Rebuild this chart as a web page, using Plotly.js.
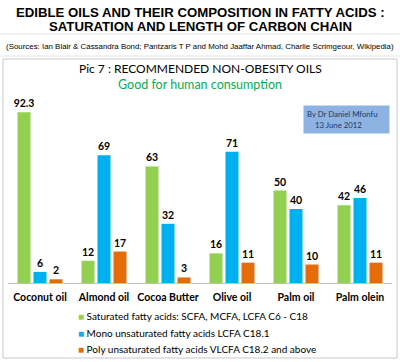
<!DOCTYPE html>
<html>
<head>
<meta charset="utf-8">
<script src="https://cdn.plot.ly/plotly-3.0.1.min.js"></script>
<style>html,body{margin:0;padding:0;background:#fff;}#chart{width:400px;height:362px;}</style>
</head>
<body>
<div id="chart"></div>
<script>
var categories = ["Coconut oil", "Almond oil", "Cocoa Butter", "Olive oil", "Palm oil", "Palm olein"];
var saturated = [92.3, 12, 63, 16, 50, 42];
var mono = [6, 69, 32, 71, 40, 46];
var poly = [2, 17, 3, 11, 10, 11];
var seriesNames = [
  "Saturated fatty acids: SCFA, MCFA, LCFA C6 - C18",
  "Mono unsaturated fatty acids LCFA C18.1",
  "Poly unsaturated fatty acids VLCFA C18.2 and above"
];
var seriesColors = ["#92d050", "#00b0f0", "#e46c0a"];

var W = 400, H = 362;
var L = 8, R = 8, T = 98, B = 79;
var pw = W - L - R, ph = H - T - B;
function px(x) { return (x - L) / pw; }
function py(y) { return (H - B - y) / ph; }

var labelFont = {family: "Lato, sans-serif", size: 10.5, color: "#000", weight: "bold"};
function mk(vals, i) {
  return {
    type: "bar", x: categories, y: vals, name: seriesNames[i],
    marker: {color: seriesColors[i]},
    text: vals.map(String), textposition: "outside",
    textfont: labelFont, cliponaxis: false, constraintext: "none",
    showlegend: false, hoverinfo: "none"
  };
}
var data = [mk(saturated, 0), mk(mono, 1), mk(poly, 2)];

var ann = [
  {text: "EDIBLE OILS AND THEIR COMPOSITION IN FATTY ACIDS :", x: px(200), y: py(12), font: {family: "Liberation Sans, Arial", size: 13.2, weight: "bold", color: "#000"}},
  {text: "SATURATION AND LENGTH OF CARBON CHAIN", x: px(200), y: py(27), font: {family: "Liberation Sans, Arial", size: 13.2, weight: "bold", color: "#000"}},
  {text: "(Sources: Ian Blair &amp; Cassandra Bond; Pantzaris T P and Mohd Jaaffar Ahmad, Charlie Scrimgeour, Wikipedia)", x: px(200), y: py(47), font: {family: "Liberation Sans, Arial", size: 7.9, color: "#000"}},
  {text: "Pic 7 : RECOMMENDED NON-OBESITY OILS", x: px(200), y: py(68), font: {family: "Lato, sans-serif", size: 12, color: "#000"}},
  {text: "Good for human consumption", x: px(200), y: py(84), font: {family: "Lato, sans-serif", size: 12.5, color: "#00b050"}},
  {text: "By Dr Daniel Mfonfu<br>&nbsp;&nbsp;&nbsp;&nbsp;13 June 2012", x: px(303), y: py(105), xanchor: "left", yanchor: "top",
   width: 79, height: 21, align: "left", valign: "middle", bgcolor: "#8db3e2", borderpad: 3,
   font: {family: "Lato, sans-serif", size: 7.8, color: "#1f3864"}}
];
for (var i = 0; i < 3; i++) {
  ann.push({text: '<span style="color:' + seriesColors[i] + '">■</span> ' + seriesNames[i],
    x: px(76), y: py(316 + i * 16.5), xanchor: "left",
    font: {family: "Lato, sans-serif", size: 10, color: "#000"}});
}
ann.forEach(function(a) {
  a.xref = "paper"; a.yref = "paper"; a.showarrow = false;
  if (!a.xanchor) a.xanchor = "center";
  if (!a.yanchor) a.yanchor = "middle";
});

var lineCol = "#e4e4e4";
var shapes = [
  {type: "line", x0: px(0), x1: px(400), y0: py(34), y1: py(34), line: {color: lineCol, width: 1}},
  {type: "line", x0: px(0), x1: px(400), y0: py(56), y1: py(56), line: {color: lineCol, width: 1}},
  {type: "rect", x0: px(3), x1: px(397), y0: py(59), y1: py(358), line: {color: "#c8c8c8", width: 1}}
];
shapes.forEach(function(s) { s.xref = "paper"; s.yref = "paper"; s.layer = "below"; });

var layout = {
  width: W, height: H,
  margin: {l: L, r: R, t: T, b: B, pad: 0},
  paper_bgcolor: "#fff", plot_bgcolor: "rgba(0,0,0,0)",
  barmode: "group", bargap: 0.25, bargroupgap: 0.1875,
  xaxis: {type: "category", showline: true, linecolor: "#bfbfbf", linewidth: 1, ticks: "", showgrid: false,
    tickfont: {family: "Lato, sans-serif", size: 10.5, color: "#000", weight: "bold"}, ticklabelstandoff: 4, fixedrange: true},
  yaxis: {range: [0, 100], visible: false, fixedrange: true},
  annotations: ann, shapes: shapes, showlegend: false
};
Plotly.newPlot("chart", data, layout, {displayModeBar: false, staticPlot: true});
</script>
</body>
</html>
